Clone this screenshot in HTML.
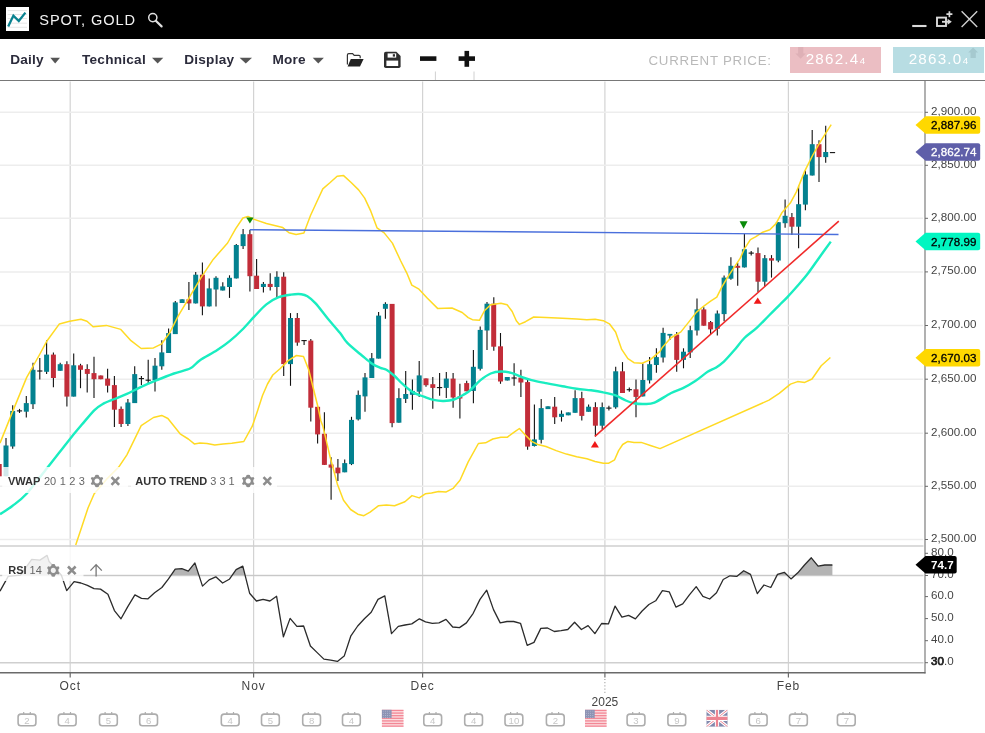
<!DOCTYPE html>
<html><head><meta charset="utf-8"><title>SPOT, GOLD</title>
<style>
html,body{margin:0;padding:0;background:#fff;}
body{width:985px;height:733px;position:relative;overflow:hidden;font-family:"Liberation Sans",sans-serif;}
#hdr{position:absolute;left:0;top:0;width:985px;height:39px;background:#000;}
#logo{position:absolute;left:5.5px;top:7.4px;width:23.7px;height:24px;background:#fff;}
#title{position:absolute;left:39.3px;top:11.4px;font-size:14.6px;line-height:18px;color:#f2f2f2;letter-spacing:.9px;white-space:nowrap;}
#tb{position:absolute;left:0;top:39px;width:985px;height:41px;background:#fff;border-bottom:1.5px solid #787878;}
.mi{position:absolute;top:12.3px;font-size:13.6px;line-height:18px;font-weight:bold;color:#2b2b3b;letter-spacing:.25px;white-space:nowrap;}
.cp{position:absolute;left:648.5px;top:52px;font-size:13.3px;line-height:18px;color:#b9b9b9;letter-spacing:.75px;white-space:nowrap;}
.pb{position:absolute;top:47px;height:25.5px;width:91.2px;color:#fff;font-size:15.2px;line-height:24.6px;letter-spacing:1.2px;white-space:nowrap;}
.pb span{position:absolute;top:0;}
.pb small{font-size:9.8px;letter-spacing:0;margin-left:.3px;}
svg text{font-family:"Liberation Sans",sans-serif;}
.ax{font-size:11.6px;fill:#444;letter-spacing:.05px;}
.tg{font-size:11.6px;letter-spacing:.05px;}
.mo{font-size:12px;fill:#444;letter-spacing:.9px;}
.cn{font-size:9.6px;fill:#c6c6c6;}
.il{font-size:11px;}
#ov{position:absolute;left:0;top:0;}
</style></head><body>
<div id="hdr">
 <div id="logo"></div>
 <div id="title">SPOT, GOLD</div>
</div>
<div id="tb">
 <div class="mi" style="left:10.2px">Daily</div>
 <div class="mi" style="left:82px">Technical</div>
 <div class="mi" style="left:184.2px">Display</div>
 <div class="mi" style="left:272.4px">More</div>
</div>
<div class="cp">CURRENT PRICE:</div>
<div class="pb" style="left:789.8px;background:#ebbec3"><span style="left:15.9px">2862.4<small>4</small></span></div>
<div class="pb" style="left:892.8px;background:#b8dde3"><span style="left:15.9px">2863.0<small>4</small></span></div>
<svg id="ov" width="985" height="733" viewBox="0 0 985 733">
<!-- header icons -->
<g>
 <path d="M7.7,10.6 H27 M7.7,14.5 H27 M7.7,18.5 H27 M7.7,23.2 H27 M7.7,27.3 H27" stroke="#e6e6e6" stroke-width="1"/>
 <path d="M8.2,26.6 L13.4,15.6 L18.8,21 L25.4,12.6" stroke="#0a8290" stroke-width="2.3" fill="none"/>
 <circle cx="152.8" cy="17.6" r="4.1" stroke="#e0e0e0" stroke-width="1.5" fill="none"/>
 <path d="M155.8,20.8 L161.6,26.4" stroke="#e0e0e0" stroke-width="2.2" stroke-linecap="round"/>
 <path d="M912.2,26 H926.5" stroke="#dadada" stroke-width="2.1"/>
 <rect x="937" y="17.6" width="9" height="8.4" stroke="#dadada" stroke-width="1.9" fill="none"/>
 <path d="M942,21.8 H948" stroke="#dadada" stroke-width="1.8"/>
 <path d="M947.6,18.8 L951.8,21.8 L947.6,24.8 Z" fill="#dadada"/>
 <path d="M949.4,11.2 V17.2 M946.4,14.2 H952.4" stroke="#dadada" stroke-width="1.7"/>
 <path d="M961.6,11.2 L977.2,27 M977.2,11.2 L961.6,27" stroke="#cfcfcf" stroke-width="1.4"/>
</g>
<!-- toolbar icons -->
<g fill="#555">
 <path d="M50.3,57.8 H60 L55.15,63.6 Z"/>
 <path d="M152,57.8 H163.3 L157.65,63.6 Z"/>
 <path d="M239.6,57.8 H252 L245.8,63.6 Z"/>
 <path d="M312.7,57.8 H323.9 L318.3,63.6 Z"/>
</g>
<g>
 <path d="M347.4,64.6 V55 Q347.4,53.6 348.8,53.6 H352.6 L354.2,55.4 H359 Q360.2,55.4 360.2,56.6 V58.2" stroke="#333" stroke-width="1.2" fill="none"/>
 <path d="M347.6,66.4 L350.8,59 H363.6 L360,66.4 Z" fill="#222"/>
 <path d="M385.8,51.8 H396.4 L400.6,56 V66.2 Q400.6,68 398.8,68 H385.8 Q384,68 384,66.2 V53.6 Q384,51.8 385.8,51.8 Z" fill="#2e2e2e"/>
 <rect x="387.6" y="53.4" width="8.6" height="4.2" fill="#fff"/>
 <rect x="392.8" y="54.2" width="2.2" height="2.4" fill="#2e2e2e"/>
 <rect x="386.4" y="60.6" width="11.8" height="5.4" fill="#fff"/>
 <rect x="420" y="56.3" width="16.4" height="4.6" fill="#111"/>
 <rect x="458.6" y="56.3" width="16.4" height="4.6" fill="#111"/>
 <rect x="464.5" y="50.9" width="4.6" height="15.9" fill="#111"/>
 <path d="M798.1,47 H803.3 V53.6 H805.7 L800.6,58.7 L795.4,53.6 H798.1 Z" fill="#deb0b6"/>
 <path d="M970.5,58 H975.8 V52.6 H978.1 L973.1,47.5 L968.2,52.6 H970.5 Z" fill="#a5c9cf"/>
</g>
<line x1="70.2" x2="70.2" y1="81.5" y2="672" stroke="#d3d3d3" stroke-width="1.2"/>
<line x1="253.6" x2="253.6" y1="81.5" y2="672" stroke="#d3d3d3" stroke-width="1.2"/>
<line x1="422.6" x2="422.6" y1="81.5" y2="672" stroke="#d3d3d3" stroke-width="1.2"/>
<line x1="604.9" x2="604.9" y1="81.5" y2="672" stroke="#d3d3d3" stroke-width="1.2"/>
<line x1="788.4" x2="788.4" y1="81.5" y2="672" stroke="#d3d3d3" stroke-width="1.2"/>
<line x1="0" x2="923" y1="112.3" y2="112.3" stroke="#ededed" stroke-width="1.5"/>
<line x1="0" x2="923" y1="165.3" y2="165.3" stroke="#ededed" stroke-width="1.5"/>
<line x1="0" x2="923" y1="218.3" y2="218.3" stroke="#ededed" stroke-width="1.5"/>
<line x1="0" x2="923" y1="271.9" y2="271.9" stroke="#ededed" stroke-width="1.5"/>
<line x1="0" x2="923" y1="325.5" y2="325.5" stroke="#ededed" stroke-width="1.5"/>
<line x1="0" x2="923" y1="379.2" y2="379.2" stroke="#ededed" stroke-width="1.5"/>
<line x1="0" x2="923" y1="433.2" y2="433.2" stroke="#ededed" stroke-width="1.5"/>
<line x1="0" x2="923" y1="486.3" y2="486.3" stroke="#ededed" stroke-width="1.5"/>
<line x1="0" x2="923" y1="539.5" y2="539.5" stroke="#ededed" stroke-width="1.5"/>
<line x1="435.4" x2="435.4" y1="71.5" y2="80" stroke="#d0d0d0" stroke-width="1"/>
<line x1="474" x2="474" y1="71.5" y2="80" stroke="#d0d0d0" stroke-width="1"/>
<line x1="0" x2="923.5" y1="546" y2="546" stroke="#cfcfcf" stroke-width="1.6"/>
<line x1="0" x2="923.5" y1="575.5" y2="575.5" stroke="#cfcfcf" stroke-width="1.4"/>
<line x1="0" x2="923.5" y1="662.7" y2="662.7" stroke="#cfcfcf" stroke-width="1.4"/>
<line x1="-0.8" x2="-0.8" y1="464" y2="476.3" stroke="#111" stroke-width="1.1"/>
<rect x="-3.3" y="464" width="5" height="12.3" fill="#c22d39"/>
<line x1="6.0" x2="6.0" y1="437.9" y2="476.2" stroke="#111" stroke-width="1.1"/>
<rect x="3.5" y="445.5" width="5" height="30.7" fill="#03818f"/>
<line x1="12.7" x2="12.7" y1="405.2" y2="448.8" stroke="#111" stroke-width="1.1"/>
<rect x="10.2" y="410.9" width="5" height="35.6" fill="#03818f"/>
<line x1="19.5" x2="19.5" y1="408.9" y2="413.0" stroke="#111" stroke-width="1.1"/>
<line x1="16.9" x2="22.1" y1="410.9" y2="410.9" stroke="#111" stroke-width="1.1"/>
<line x1="26.3" x2="26.3" y1="396.0" y2="417.5" stroke="#111" stroke-width="1.1"/>
<rect x="23.8" y="403.1" width="5" height="8.6" fill="#03818f"/>
<line x1="33.0" x2="33.0" y1="362.8" y2="408.9" stroke="#111" stroke-width="1.1"/>
<rect x="30.5" y="369.8" width="5" height="34.4" fill="#03818f"/>
<line x1="39.8" x2="39.8" y1="358.1" y2="379.6" stroke="#111" stroke-width="1.1"/>
<line x1="37.2" x2="42.4" y1="371.0" y2="371.0" stroke="#111" stroke-width="1.1"/>
<line x1="46.6" x2="46.6" y1="340.3" y2="373.9" stroke="#111" stroke-width="1.1"/>
<rect x="44.1" y="354.6" width="5" height="17.2" fill="#03818f"/>
<line x1="53.4" x2="53.4" y1="352.4" y2="387.2" stroke="#111" stroke-width="1.1"/>
<rect x="50.9" y="354.6" width="5" height="23.4" fill="#c22d39"/>
<line x1="60.2" x2="60.2" y1="362.8" y2="370.8" stroke="#111" stroke-width="1.1"/>
<rect x="57.7" y="364.2" width="5" height="6.6" fill="#03818f"/>
<line x1="66.9" x2="66.9" y1="361.2" y2="406.6" stroke="#111" stroke-width="1.1"/>
<rect x="64.4" y="364.2" width="5" height="32.4" fill="#c22d39"/>
<line x1="73.7" x2="73.7" y1="353.4" y2="396.6" stroke="#111" stroke-width="1.1"/>
<rect x="71.2" y="365.3" width="5" height="31.3" fill="#03818f"/>
<line x1="80.5" x2="80.5" y1="363.8" y2="388.2" stroke="#111" stroke-width="1.1"/>
<rect x="78.0" y="365.3" width="5" height="4.5" fill="#c22d39"/>
<line x1="87.2" x2="87.2" y1="364.2" y2="392.5" stroke="#111" stroke-width="1.1"/>
<rect x="84.8" y="369.0" width="5" height="4.9" fill="#c22d39"/>
<line x1="94.0" x2="94.0" y1="356.7" y2="398.0" stroke="#111" stroke-width="1.1"/>
<rect x="91.5" y="373.1" width="5" height="6.1" fill="#c22d39"/>
<line x1="100.8" x2="100.8" y1="375.5" y2="379.2" stroke="#111" stroke-width="1.1"/>
<rect x="98.3" y="375.5" width="5" height="3.7" fill="#c22d39"/>
<line x1="107.6" x2="107.6" y1="368.8" y2="392.5" stroke="#111" stroke-width="1.1"/>
<rect x="105.1" y="378.6" width="5" height="7.1" fill="#c22d39"/>
<line x1="114.4" x2="114.4" y1="375.9" y2="427.1" stroke="#111" stroke-width="1.1"/>
<rect x="111.9" y="385.1" width="5" height="24.6" fill="#c22d39"/>
<line x1="121.1" x2="121.1" y1="406.6" y2="427.1" stroke="#111" stroke-width="1.1"/>
<rect x="118.6" y="408.9" width="5" height="15.1" fill="#c22d39"/>
<line x1="127.9" x2="127.9" y1="399.0" y2="426.1" stroke="#111" stroke-width="1.1"/>
<rect x="125.4" y="402.5" width="5" height="21.5" fill="#03818f"/>
<line x1="134.7" x2="134.7" y1="366.3" y2="403.1" stroke="#111" stroke-width="1.1"/>
<rect x="132.2" y="374.1" width="5" height="29.0" fill="#03818f"/>
<line x1="141.4" x2="141.4" y1="375.9" y2="385.1" stroke="#111" stroke-width="1.1"/>
<line x1="138.8" x2="144.0" y1="378.6" y2="378.6" stroke="#111" stroke-width="1.1"/>
<line x1="148.2" x2="148.2" y1="359.7" y2="384.1" stroke="#111" stroke-width="1.1"/>
<line x1="145.6" x2="150.8" y1="380.2" y2="380.2" stroke="#111" stroke-width="1.1"/>
<line x1="155.0" x2="155.0" y1="358.1" y2="391.5" stroke="#111" stroke-width="1.1"/>
<rect x="152.5" y="365.7" width="5" height="14.5" fill="#03818f"/>
<line x1="161.8" x2="161.8" y1="340.3" y2="369.8" stroke="#111" stroke-width="1.1"/>
<rect x="159.3" y="352.4" width="5" height="13.9" fill="#03818f"/>
<line x1="168.6" x2="168.6" y1="328.4" y2="353.0" stroke="#111" stroke-width="1.1"/>
<rect x="166.1" y="333.1" width="5" height="19.9" fill="#03818f"/>
<line x1="175.3" x2="175.3" y1="300.9" y2="334.1" stroke="#111" stroke-width="1.1"/>
<rect x="172.8" y="302.4" width="5" height="31.7" fill="#03818f"/>
<line x1="182.1" x2="182.1" y1="299.3" y2="303.0" stroke="#111" stroke-width="1.1"/>
<rect x="179.6" y="299.3" width="5" height="3.7" fill="#03818f"/>
<line x1="188.9" x2="188.9" y1="281.9" y2="309.9" stroke="#111" stroke-width="1.1"/>
<rect x="186.4" y="299.3" width="5" height="4.1" fill="#c22d39"/>
<line x1="195.7" x2="195.7" y1="272.1" y2="303.4" stroke="#111" stroke-width="1.1"/>
<rect x="193.2" y="274.7" width="5" height="28.7" fill="#03818f"/>
<line x1="202.4" x2="202.4" y1="262.4" y2="315.3" stroke="#111" stroke-width="1.1"/>
<rect x="199.9" y="274.7" width="5" height="31.7" fill="#c22d39"/>
<line x1="209.2" x2="209.2" y1="278.4" y2="306.4" stroke="#111" stroke-width="1.1"/>
<rect x="206.7" y="288.4" width="5" height="18.0" fill="#03818f"/>
<line x1="216.0" x2="216.0" y1="276.2" y2="306.4" stroke="#111" stroke-width="1.1"/>
<rect x="213.5" y="277.8" width="5" height="11.7" fill="#03818f"/>
<line x1="222.8" x2="222.8" y1="282.3" y2="290.5" stroke="#111" stroke-width="1.1"/>
<rect x="220.2" y="286.4" width="5" height="4.1" fill="#03818f"/>
<line x1="229.5" x2="229.5" y1="275.3" y2="297.9" stroke="#111" stroke-width="1.1"/>
<rect x="227.0" y="277.8" width="5" height="9.2" fill="#03818f"/>
<line x1="236.3" x2="236.3" y1="244.0" y2="278.4" stroke="#111" stroke-width="1.1"/>
<rect x="233.8" y="245.0" width="5" height="33.4" fill="#03818f"/>
<line x1="243.1" x2="243.1" y1="229.1" y2="249.1" stroke="#111" stroke-width="1.1"/>
<rect x="240.6" y="234.2" width="5" height="11.9" fill="#03818f"/>
<line x1="249.9" x2="249.9" y1="229.7" y2="291.5" stroke="#111" stroke-width="1.1"/>
<rect x="247.4" y="234.2" width="5" height="42.0" fill="#c22d39"/>
<line x1="256.6" x2="256.6" y1="259.0" y2="289.0" stroke="#111" stroke-width="1.1"/>
<rect x="254.1" y="275.7" width="5" height="13.3" fill="#c22d39"/>
<line x1="263.4" x2="263.4" y1="281.9" y2="292.5" stroke="#111" stroke-width="1.1"/>
<rect x="260.9" y="283.9" width="5" height="3.1" fill="#03818f"/>
<line x1="270.2" x2="270.2" y1="273.3" y2="290.5" stroke="#111" stroke-width="1.1"/>
<rect x="267.7" y="283.9" width="5" height="3.1" fill="#c22d39"/>
<line x1="276.9" x2="276.9" y1="271.2" y2="297.9" stroke="#111" stroke-width="1.1"/>
<rect x="274.4" y="276.8" width="5" height="10.2" fill="#03818f"/>
<line x1="283.7" x2="283.7" y1="272.2" y2="376.0" stroke="#111" stroke-width="1.1"/>
<rect x="281.2" y="276.7" width="5" height="87.4" fill="#c22d39"/>
<line x1="290.5" x2="290.5" y1="313.1" y2="385.8" stroke="#111" stroke-width="1.1"/>
<rect x="288.0" y="318.0" width="5" height="46.1" fill="#03818f"/>
<line x1="297.3" x2="297.3" y1="313.1" y2="345.7" stroke="#111" stroke-width="1.1"/>
<rect x="294.8" y="318.0" width="5" height="24.6" fill="#c22d39"/>
<line x1="304.1" x2="304.1" y1="340.6" y2="344.9" stroke="#111" stroke-width="1.1"/>
<line x1="301.4" x2="306.7" y1="340.6" y2="340.6" stroke="#111" stroke-width="1.1"/>
<line x1="310.8" x2="310.8" y1="339.1" y2="421.6" stroke="#111" stroke-width="1.1"/>
<rect x="308.3" y="340.6" width="5" height="67.1" fill="#c22d39"/>
<line x1="317.6" x2="317.6" y1="406.8" y2="443.4" stroke="#111" stroke-width="1.1"/>
<rect x="315.1" y="406.8" width="5" height="27.6" fill="#c22d39"/>
<line x1="324.4" x2="324.4" y1="412.3" y2="464.9" stroke="#111" stroke-width="1.1"/>
<rect x="321.9" y="433.8" width="5" height="31.1" fill="#c22d39"/>
<line x1="331.1" x2="331.1" y1="457.3" y2="499.7" stroke="#111" stroke-width="1.1"/>
<rect x="328.6" y="464.5" width="5" height="3.1" fill="#c22d39"/>
<line x1="337.9" x2="337.9" y1="459.0" y2="480.9" stroke="#111" stroke-width="1.1"/>
<rect x="335.4" y="467.6" width="5" height="5.7" fill="#c22d39"/>
<line x1="344.7" x2="344.7" y1="459.4" y2="472.3" stroke="#111" stroke-width="1.1"/>
<rect x="342.2" y="463.1" width="5" height="9.2" fill="#03818f"/>
<line x1="351.5" x2="351.5" y1="416.8" y2="465.1" stroke="#111" stroke-width="1.1"/>
<rect x="349.0" y="419.9" width="5" height="44.2" fill="#03818f"/>
<line x1="358.2" x2="358.2" y1="390.4" y2="420.5" stroke="#111" stroke-width="1.1"/>
<rect x="355.8" y="394.9" width="5" height="24.5" fill="#03818f"/>
<line x1="365.0" x2="365.0" y1="372.9" y2="411.8" stroke="#111" stroke-width="1.1"/>
<rect x="362.5" y="377.4" width="5" height="19.0" fill="#03818f"/>
<line x1="371.8" x2="371.8" y1="353.1" y2="378.0" stroke="#111" stroke-width="1.1"/>
<rect x="369.3" y="358.2" width="5" height="19.8" fill="#03818f"/>
<line x1="378.6" x2="378.6" y1="312.1" y2="358.6" stroke="#111" stroke-width="1.1"/>
<rect x="376.1" y="315.6" width="5" height="43.0" fill="#03818f"/>
<line x1="385.4" x2="385.4" y1="302.3" y2="318.7" stroke="#111" stroke-width="1.1"/>
<rect x="382.9" y="303.9" width="5" height="4.9" fill="#03818f"/>
<line x1="392.1" x2="392.1" y1="303.9" y2="427.2" stroke="#111" stroke-width="1.1"/>
<rect x="389.6" y="303.9" width="5" height="119.2" fill="#c22d39"/>
<line x1="398.9" x2="398.9" y1="388.3" y2="422.7" stroke="#111" stroke-width="1.1"/>
<rect x="396.4" y="398.1" width="5" height="24.6" fill="#03818f"/>
<line x1="405.7" x2="405.7" y1="370.9" y2="403.0" stroke="#111" stroke-width="1.1"/>
<rect x="403.2" y="394.0" width="5" height="4.9" fill="#03818f"/>
<line x1="412.4" x2="412.4" y1="379.5" y2="409.8" stroke="#111" stroke-width="1.1"/>
<rect x="409.9" y="390.9" width="5" height="3.9" fill="#03818f"/>
<line x1="419.2" x2="419.2" y1="361.0" y2="396.9" stroke="#111" stroke-width="1.1"/>
<rect x="416.7" y="375.4" width="5" height="16.3" fill="#03818f"/>
<line x1="426.0" x2="426.0" y1="378.4" y2="386.8" stroke="#111" stroke-width="1.1"/>
<rect x="423.5" y="378.4" width="5" height="6.8" fill="#c22d39"/>
<line x1="432.8" x2="432.8" y1="377.0" y2="408.7" stroke="#111" stroke-width="1.1"/>
<rect x="430.3" y="384.2" width="5" height="3.7" fill="#c22d39"/>
<line x1="439.6" x2="439.6" y1="372.9" y2="395.8" stroke="#111" stroke-width="1.1"/>
<line x1="436.9" x2="442.2" y1="387.6" y2="387.6" stroke="#111" stroke-width="1.1"/>
<line x1="446.3" x2="446.3" y1="371.9" y2="397.9" stroke="#111" stroke-width="1.1"/>
<rect x="443.8" y="378.6" width="5" height="9.3" fill="#03818f"/>
<line x1="453.1" x2="453.1" y1="372.9" y2="407.7" stroke="#111" stroke-width="1.1"/>
<rect x="450.6" y="378.6" width="5" height="18.9" fill="#c22d39"/>
<line x1="459.9" x2="459.9" y1="383.8" y2="418.6" stroke="#111" stroke-width="1.1"/>
<rect x="457.4" y="396.4" width="5" height="2.1" fill="#c22d39"/>
<line x1="466.7" x2="466.7" y1="380.7" y2="391.3" stroke="#111" stroke-width="1.1"/>
<rect x="464.2" y="383.1" width="5" height="8.2" fill="#c22d39"/>
<line x1="473.4" x2="473.4" y1="350.0" y2="403.2" stroke="#111" stroke-width="1.1"/>
<rect x="470.9" y="366.8" width="5" height="24.1" fill="#03818f"/>
<line x1="480.2" x2="480.2" y1="326.4" y2="370.5" stroke="#111" stroke-width="1.1"/>
<rect x="477.7" y="329.9" width="5" height="38.9" fill="#03818f"/>
<line x1="487.0" x2="487.0" y1="301.9" y2="350.0" stroke="#111" stroke-width="1.1"/>
<rect x="484.5" y="303.7" width="5" height="26.8" fill="#03818f"/>
<line x1="493.8" x2="493.8" y1="297.2" y2="350.8" stroke="#111" stroke-width="1.1"/>
<rect x="491.2" y="303.7" width="5" height="43.0" fill="#c22d39"/>
<line x1="500.5" x2="500.5" y1="333.0" y2="383.8" stroke="#111" stroke-width="1.1"/>
<rect x="498.0" y="346.3" width="5" height="35.2" fill="#c22d39"/>
<line x1="507.3" x2="507.3" y1="377.0" y2="380.5" stroke="#111" stroke-width="1.1"/>
<rect x="504.8" y="377.0" width="5" height="3.5" fill="#03818f"/>
<line x1="514.1" x2="514.1" y1="363.3" y2="385.8" stroke="#111" stroke-width="1.1"/>
<line x1="511.5" x2="516.7" y1="378.0" y2="378.0" stroke="#111" stroke-width="1.1"/>
<line x1="520.9" x2="520.9" y1="369.8" y2="396.9" stroke="#111" stroke-width="1.1"/>
<rect x="518.4" y="377.6" width="5" height="4.9" fill="#c22d39"/>
<line x1="527.6" x2="527.6" y1="378.0" y2="449.7" stroke="#111" stroke-width="1.1"/>
<rect x="525.1" y="382.1" width="5" height="64.5" fill="#c22d39"/>
<line x1="534.4" x2="534.4" y1="404.6" y2="446.6" stroke="#111" stroke-width="1.1"/>
<rect x="531.9" y="439.4" width="5" height="6.6" fill="#03818f"/>
<line x1="541.2" x2="541.2" y1="399.1" y2="443.5" stroke="#111" stroke-width="1.1"/>
<rect x="538.7" y="408.1" width="5" height="31.7" fill="#03818f"/>
<line x1="548.0" x2="548.0" y1="406.3" y2="409.1" stroke="#111" stroke-width="1.1"/>
<rect x="545.5" y="406.3" width="5" height="2.8" fill="#03818f"/>
<line x1="554.7" x2="554.7" y1="396.9" y2="424.1" stroke="#111" stroke-width="1.1"/>
<rect x="552.2" y="406.7" width="5" height="10.6" fill="#c22d39"/>
<line x1="561.5" x2="561.5" y1="410.4" y2="421.6" stroke="#111" stroke-width="1.1"/>
<rect x="559.0" y="413.8" width="5" height="3.1" fill="#03818f"/>
<line x1="568.3" x2="568.3" y1="412.4" y2="415.3" stroke="#111" stroke-width="1.1"/>
<rect x="565.8" y="412.4" width="5" height="2.9" fill="#03818f"/>
<line x1="575.1" x2="575.1" y1="390.3" y2="412.8" stroke="#111" stroke-width="1.1"/>
<rect x="572.6" y="398.1" width="5" height="14.7" fill="#03818f"/>
<line x1="581.8" x2="581.8" y1="391.7" y2="420.6" stroke="#111" stroke-width="1.1"/>
<rect x="579.3" y="398.1" width="5" height="17.8" fill="#c22d39"/>
<line x1="588.6" x2="588.6" y1="404.6" y2="411.8" stroke="#111" stroke-width="1.1"/>
<rect x="586.1" y="406.7" width="5" height="5.1" fill="#03818f"/>
<line x1="595.4" x2="595.4" y1="402.2" y2="436.4" stroke="#111" stroke-width="1.1"/>
<rect x="592.9" y="407.1" width="5" height="18.6" fill="#c22d39"/>
<line x1="602.2" x2="602.2" y1="402.6" y2="429.2" stroke="#111" stroke-width="1.1"/>
<rect x="599.7" y="407.1" width="5" height="18.6" fill="#03818f"/>
<line x1="608.9" x2="608.9" y1="405.7" y2="410.4" stroke="#111" stroke-width="1.1"/>
<line x1="606.3" x2="611.5" y1="408.1" y2="408.1" stroke="#111" stroke-width="1.1"/>
<line x1="615.7" x2="615.7" y1="366.8" y2="408.7" stroke="#111" stroke-width="1.1"/>
<rect x="613.2" y="371.3" width="5" height="36.0" fill="#03818f"/>
<line x1="622.5" x2="622.5" y1="362.1" y2="393.0" stroke="#111" stroke-width="1.1"/>
<rect x="620.0" y="371.3" width="5" height="21.7" fill="#c22d39"/>
<line x1="629.3" x2="629.3" y1="387.6" y2="391.7" stroke="#111" stroke-width="1.1"/>
<line x1="626.7" x2="631.9" y1="389.7" y2="389.7" stroke="#111" stroke-width="1.1"/>
<line x1="636.0" x2="636.0" y1="379.5" y2="417.3" stroke="#111" stroke-width="1.1"/>
<rect x="633.5" y="389.3" width="5" height="7.6" fill="#c22d39"/>
<line x1="642.8" x2="642.8" y1="363.6" y2="396.4" stroke="#111" stroke-width="1.1"/>
<rect x="640.3" y="380.0" width="5" height="16.4" fill="#03818f"/>
<line x1="649.6" x2="649.6" y1="356.9" y2="383.5" stroke="#111" stroke-width="1.1"/>
<rect x="647.1" y="364.2" width="5" height="16.2" fill="#03818f"/>
<line x1="656.4" x2="656.4" y1="348.3" y2="372.8" stroke="#111" stroke-width="1.1"/>
<rect x="653.9" y="357.1" width="5" height="7.9" fill="#03818f"/>
<line x1="663.1" x2="663.1" y1="327.8" y2="362.6" stroke="#111" stroke-width="1.1"/>
<rect x="660.6" y="332.9" width="5" height="24.6" fill="#03818f"/>
<line x1="669.9" x2="669.9" y1="333.9" y2="340.1" stroke="#111" stroke-width="1.1"/>
<rect x="667.4" y="333.9" width="5" height="1.7" fill="#03818f"/>
<line x1="676.7" x2="676.7" y1="331.9" y2="371.8" stroke="#111" stroke-width="1.1"/>
<rect x="674.2" y="334.5" width="5" height="25.4" fill="#c22d39"/>
<line x1="683.5" x2="683.5" y1="348.3" y2="368.3" stroke="#111" stroke-width="1.1"/>
<rect x="681.0" y="351.7" width="5" height="8.2" fill="#03818f"/>
<line x1="690.2" x2="690.2" y1="325.7" y2="357.9" stroke="#111" stroke-width="1.1"/>
<rect x="687.7" y="330.2" width="5" height="22.2" fill="#03818f"/>
<line x1="697.0" x2="697.0" y1="298.5" y2="335.6" stroke="#111" stroke-width="1.1"/>
<rect x="694.5" y="309.4" width="5" height="21.1" fill="#03818f"/>
<line x1="703.8" x2="703.8" y1="307.3" y2="325.7" stroke="#111" stroke-width="1.1"/>
<rect x="701.3" y="309.4" width="5" height="16.3" fill="#c22d39"/>
<line x1="710.6" x2="710.6" y1="321.0" y2="333.9" stroke="#111" stroke-width="1.1"/>
<rect x="708.1" y="322.1" width="5" height="7.3" fill="#c22d39"/>
<line x1="717.3" x2="717.3" y1="310.4" y2="335.6" stroke="#111" stroke-width="1.1"/>
<rect x="714.8" y="313.5" width="5" height="15.3" fill="#03818f"/>
<line x1="724.1" x2="724.1" y1="275.6" y2="321.2" stroke="#111" stroke-width="1.1"/>
<rect x="721.6" y="277.6" width="5" height="36.5" fill="#03818f"/>
<line x1="730.9" x2="730.9" y1="257.2" y2="279.7" stroke="#111" stroke-width="1.1"/>
<rect x="728.4" y="265.8" width="5" height="12.9" fill="#03818f"/>
<line x1="737.7" x2="737.7" y1="262.7" y2="285.8" stroke="#111" stroke-width="1.1"/>
<rect x="735.2" y="265.8" width="5" height="2.0" fill="#c22d39"/>
<line x1="744.4" x2="744.4" y1="233.8" y2="267.4" stroke="#111" stroke-width="1.1"/>
<rect x="741.9" y="249.2" width="5" height="18.2" fill="#03818f"/>
<line x1="751.2" x2="751.2" y1="251.0" y2="255.5" stroke="#111" stroke-width="1.1"/>
<line x1="748.6" x2="753.8" y1="253.1" y2="253.1" stroke="#111" stroke-width="1.1"/>
<line x1="758.0" x2="758.0" y1="247.5" y2="292.0" stroke="#111" stroke-width="1.1"/>
<rect x="755.5" y="253.1" width="5" height="28.6" fill="#c22d39"/>
<line x1="764.8" x2="764.8" y1="255.1" y2="286.4" stroke="#111" stroke-width="1.1"/>
<rect x="762.3" y="258.2" width="5" height="23.5" fill="#03818f"/>
<line x1="771.5" x2="771.5" y1="255.1" y2="277.6" stroke="#111" stroke-width="1.1"/>
<rect x="769.0" y="258.2" width="5" height="2.4" fill="#c22d39"/>
<line x1="778.3" x2="778.3" y1="222.2" y2="262.3" stroke="#111" stroke-width="1.1"/>
<rect x="775.8" y="222.2" width="5" height="38.4" fill="#03818f"/>
<line x1="785.1" x2="785.1" y1="199.5" y2="227.7" stroke="#111" stroke-width="1.1"/>
<rect x="782.6" y="215.8" width="5" height="7.4" fill="#03818f"/>
<line x1="791.9" x2="791.9" y1="213.0" y2="234.9" stroke="#111" stroke-width="1.1"/>
<rect x="789.4" y="217.1" width="5" height="9.6" fill="#c22d39"/>
<line x1="798.6" x2="798.6" y1="185.7" y2="248.2" stroke="#111" stroke-width="1.1"/>
<rect x="796.1" y="204.2" width="5" height="22.5" fill="#03818f"/>
<line x1="805.4" x2="805.4" y1="170.4" y2="210.3" stroke="#111" stroke-width="1.1"/>
<rect x="802.9" y="174.5" width="5" height="30.1" fill="#03818f"/>
<line x1="812.2" x2="812.2" y1="130.1" y2="175.5" stroke="#111" stroke-width="1.1"/>
<rect x="809.7" y="144.2" width="5" height="31.3" fill="#03818f"/>
<line x1="819.0" x2="819.0" y1="140.3" y2="182.1" stroke="#111" stroke-width="1.1"/>
<rect x="816.5" y="144.2" width="5" height="12.9" fill="#c22d39"/>
<line x1="825.7" x2="825.7" y1="125.8" y2="162.8" stroke="#111" stroke-width="1.1"/>
<rect x="823.2" y="152.0" width="5" height="5.1" fill="#03818f"/>
<line x1="829.9" x2="835.1" y1="152.6" y2="152.6" stroke="#111" stroke-width="1.1"/>
<path d="M0.0,443.1 L12.3,412.4 L26.6,377.6 L39.9,354.0 L47.1,340.7 L59.4,323.9 L69.6,321.3 L80.9,319.2 L87.0,321.3 L93.1,326.8 L106.4,325.4 L120.8,329.4 L131.0,340.7 L141.2,348.5 L153.5,347.9 L161.7,343.8 L169.9,332.5 L178.1,316.1 L188.7,298.3 L200.9,277.8 L213.2,259.4 L227.6,243.0 L235.7,228.7 L242.9,218.0 L248.0,216.4 L254.2,219.4 L266.4,223.5 L274.6,225.6 L282.8,227.6 L289.0,232.8 L296.1,234.4 L303.9,232.9 L310.5,215.5 L316.6,202.2 L322.8,188.9 L329.9,182.8 L337.1,176.2 L343.6,175.6 L351.4,182.8 L358.6,189.9 L364.7,198.1 L370.9,211.4 L377.0,227.8 L384.2,232.9 L392.4,243.1 L400.5,260.5 L406.7,272.8 L411.8,285.1 L419.0,289.2 L427.4,298.2 L437.6,308.4 L452.0,308.0 L462.2,312.5 L468.2,317.6 L472.4,319.7 L479.4,320.3 L484.6,310.5 L490.7,304.7 L500.9,303.3 L507.1,304.7 L512.2,311.5 L516.3,320.7 L519.4,324.4 L525.5,321.7 L533.7,317.0 L546.0,317.6 L562.4,318.2 L576.7,319.1 L586.9,319.7 L595.1,319.3 L603.3,320.7 L609.4,323.8 L615.6,332.0 L621.7,349.4 L627.9,358.6 L634.0,362.7 L642.2,363.3 L650.4,359.6 L660.0,351.4 L662.5,347.2 L670.7,338.0 L680.9,331.9 L689.1,321.6 L696.3,312.4 L703.5,306.3 L710.6,301.2 L716.8,297.1 L721.9,286.8 L728.0,276.6 L734.2,267.4 L740.3,258.2 L744.2,249.2 L750.4,239.6 L755.5,236.9 L762.7,232.2 L769.8,229.8 L776.0,223.6 L782.1,212.4 L790.3,203.1 L796.4,191.9 L804.6,171.4 L812.8,155.0 L821.0,140.7 L831.2,124.7" fill="none" stroke="#ffda24" stroke-width="1.5" stroke-linejoin="round"/>
<path d="M75.7,544.9 L81.9,526.4 L88.0,508.0 L94.2,493.7 L106.4,479.4 L118.7,467.1 L126.9,454.8 L141.2,425.7 L153.5,417.5 L161.7,415.4 L167.9,418.5 L180.1,433.8 L188.3,439.0 L194.3,443.9 L200.0,443.1 L207.0,443.5 L214.8,444.9 L223.0,444.0 L231.8,443.2 L243.8,441.5 L252.3,426.2 L257.5,411.0 L262.5,395.5 L267.5,384.0 L272.8,375.0 L280.0,368.8 L288.2,360.6 L296.4,355.5 L303.5,356.5 L308.7,369.8 L313.8,390.3 L317.9,406.7 L320.9,421.0 L323.0,426.6 L330.2,457.3 L337.3,483.9 L343.5,500.3 L350.6,509.5 L357.8,514.2 L363.9,515.7 L370.1,512.2 L378.3,505.8 L386.4,505.0 L394.6,505.8 L404.9,501.7 L412.0,495.6 L419.2,497.9 L425.3,493.8 L431.5,493.1 L438.6,491.5 L445.8,492.1 L453.0,488.4 L460.0,480.3 L468.2,461.9 L478.4,443.5 L485.6,442.8 L492.8,439.0 L500.9,437.3 L507.1,437.3 L514.2,432.2 L519.4,428.5 L525.5,435.3 L531.6,441.4 L537.8,444.5 L546.0,446.5 L556.2,450.6 L566.4,454.1 L576.7,456.8 L586.9,458.8 L595.1,461.5 L603.3,463.3 L608.4,463.3 L614.6,459.8 L618.6,450.6 L622.7,444.5 L627.9,441.4 L634.0,442.4 L641.2,442.4 L650.4,445.5 L660.0,448.6 L769.0,400.1 L779.2,393.3 L790.5,384.1 L797.6,381.6 L804.8,382.4 L812.0,379.0 L821.2,365.7 L830.4,357.5" fill="none" stroke="#ffda24" stroke-width="1.5" stroke-linejoin="round"/>
<path d="M0.0,514.2 C2.1,512.8 7.9,509.4 12.3,506.0 C16.7,502.6 20.8,500.0 26.6,493.7 C32.4,487.4 39.9,477.2 47.1,468.1 C54.3,459.1 63.8,446.6 69.6,439.4 C75.4,432.1 77.8,429.5 81.9,424.6 C86.0,419.8 90.8,413.7 94.2,410.3 C97.6,406.9 99.0,406.1 102.4,404.2 C105.8,402.3 110.5,400.7 114.6,399.0 C118.7,397.3 122.5,395.9 126.9,393.9 C131.3,391.9 136.4,389.0 141.2,386.8 C146.0,384.6 150.1,382.8 155.6,380.6 C161.1,378.4 168.2,375.6 174.0,373.5 C179.8,371.4 186.1,370.5 190.4,368.3 C194.7,366.1 195.5,363.2 200.0,360.2 C204.5,357.2 212.4,353.3 217.3,350.1 C222.2,346.9 225.5,344.6 229.6,341.2 C233.7,337.8 237.8,334.1 241.9,330.0 C246.0,325.9 250.1,321.0 254.2,316.7 C258.3,312.4 262.3,307.6 266.4,304.4 C270.5,301.1 274.6,298.8 278.7,297.2 C282.8,295.6 287.2,295.1 291.0,294.6 C294.8,294.1 298.5,293.9 301.2,294.2 C303.9,294.5 305.0,294.7 307.4,296.2 C309.8,297.7 312.2,299.6 315.6,303.4 C319.0,307.1 323.8,313.8 327.9,318.7 C332.0,323.6 336.8,329.0 340.1,333.1 C343.4,337.2 344.0,339.5 347.6,343.2 C351.2,346.9 357.8,352.1 361.9,355.5 C366.0,358.9 369.0,361.6 372.1,363.7 C375.2,365.8 377.9,366.8 380.3,367.8 C382.7,368.8 384.0,368.4 386.4,369.8 C388.8,371.2 391.9,373.6 394.6,376.0 C397.3,378.4 399.7,381.5 402.8,384.2 C405.9,386.9 409.7,390.4 413.1,392.4 C416.5,394.4 419.9,395.1 423.3,396.4 C426.7,397.6 430.1,399.1 433.5,399.9 C436.9,400.7 440.4,401.1 443.8,401.0 C447.2,400.9 450.6,400.6 454.0,399.5 C457.4,398.4 461.5,395.9 464.2,394.4 C466.9,392.9 467.5,392.7 470.2,390.3 C472.9,387.9 477.1,382.9 480.5,380.1 C483.9,377.3 487.3,374.9 490.7,373.5 C494.1,372.1 497.5,371.6 500.9,371.5 C504.3,371.4 507.8,372.0 511.2,372.9 C514.6,373.8 518.0,375.8 521.4,377.0 C524.8,378.2 527.5,379.1 531.6,380.1 C535.7,381.1 540.9,382.1 546.0,383.1 C551.1,384.1 557.3,385.3 562.4,386.2 C567.5,387.1 571.9,388.0 576.7,388.7 C581.5,389.4 586.6,389.7 591.0,390.3 C595.4,390.9 599.2,391.5 603.3,392.4 C607.4,393.2 611.9,394.0 615.6,395.4 C619.4,396.8 622.7,399.2 625.8,400.5 C628.9,401.8 630.9,402.6 634.0,403.2 C637.1,403.8 640.8,404.1 644.2,404.0 C647.6,403.9 650.1,404.4 654.5,402.6 C658.9,400.8 666.0,395.7 670.7,393.3 C675.5,390.9 678.9,390.2 683.0,388.2 C687.1,386.1 691.2,383.7 695.3,381.0 C699.4,378.3 704.2,374.0 707.6,371.8 C711.0,369.6 713.0,369.4 715.7,367.7 C718.4,366.0 720.8,364.5 723.9,361.6 C727.0,358.7 730.8,354.2 734.2,350.3 C737.6,346.4 740.6,341.8 744.4,338.0 C748.1,334.2 752.6,331.6 756.7,327.8 C760.8,324.1 765.2,319.2 769.0,315.5 C772.8,311.8 776.1,308.4 779.2,305.3 C782.3,302.2 784.3,300.4 787.4,297.1 C790.5,293.9 794.2,289.7 797.6,285.8 C801.0,281.9 804.5,277.9 807.9,273.5 C811.3,269.1 814.3,264.5 818.1,259.2 C821.9,253.9 828.7,244.5 830.8,241.6" fill="none" stroke="#19edc0" stroke-width="2.4" stroke-linejoin="round"/>
<line x1="250" y1="229.7" x2="838.5" y2="234.5" stroke="#4a6fdc" stroke-width="1.4"/>
<line x1="594.9" y1="436.4" x2="838.8" y2="221.2" stroke="#f02a2a" stroke-width="1.6"/>
<polygon points="246.2,217.4 253.6,217.4 249.9,223.6" fill="#0a8a0a"/>
<polygon points="739.6,221.2 747.6,221.2 743.6,228.7" fill="#0a8a0a"/>
<polygon points="590.9,447.6 598.9,447.6 594.9,441" fill="#f01818"/>
<polygon points="753.7,303.7 761.7,303.7 757.7,297.5" fill="#f01818"/>
<clipPath id="c70"><rect x="0" y="540" width="925" height="35.5"/></clipPath>
<polygon clip-path="url(#c70)" points="0.0,575.5 0.0,591.2 8.2,576.4 20.5,575.2 31.7,559.4 39.9,560.1 47.1,555.4 49.1,561.5 61.4,575.2 66.7,590.6 74.1,581.6 80.9,583.0 87.4,585.4 94.0,588.7 100.5,589.1 107.9,594.2 114.4,610.6 121.0,618.8 127.5,607.1 134.9,594.9 141.5,598.3 148.0,598.8 154.6,592.8 161.9,587.5 168.5,578.9 175.2,569.1 181.8,568.7 188.3,571.1 194.9,562.9 202.5,586.1 209.1,579.9 215.8,576.8 222.6,583.0 229.3,579.3 236.1,569.7 242.8,566.2 249.6,593.2 256.4,601.0 263.1,599.4 269.9,601.0 276.6,596.3 283.4,636.8 290.1,618.4 296.9,626.4 303.6,626.0 310.4,646.0 317.2,652.6 323.9,659.1 330.7,660.2 337.4,661.4 344.2,656.1 350.9,635.8 357.7,626.0 364.4,618.8 371.2,612.3 378.0,599.4 384.8,595.9 391.5,633.6 398.3,626.4 405.0,625.0 411.8,623.9 419.4,618.8 425.5,621.9 432.3,623.3 439.0,622.9 446.0,619.4 452.7,627.0 459.5,627.6 466.4,622.9 473.2,613.3 480.0,599.4 486.7,590.2 493.5,609.6 500.2,622.9 507.0,621.5 513.7,621.5 520.5,623.3 527.2,645.4 534.0,642.4 540.8,628.4 547.5,628.0 554.3,631.5 561.1,630.7 567.8,629.5 574.6,622.3 581.4,629.5 588.1,625.6 594.9,633.6 601.6,623.5 608.4,623.9 615.1,606.1 621.9,617.2 628.6,615.3 635.4,618.8 642.1,611.0 648.9,604.5 655.7,600.8 662.4,590.6 669.2,591.8 675.9,607.1 682.7,603.9 689.4,594.9 696.2,586.7 702.9,596.3 709.7,599.0 716.5,592.8 723.2,579.5 730.0,575.8 736.7,576.4 743.7,570.7 750.5,574.4 757.3,593.6 764.0,585.0 770.8,587.5 777.5,574.4 784.3,572.3 791.0,578.9 797.8,572.8 804.5,565.0 811.3,557.8 818.1,566.2 824.8,565.0 832.4,565.0 832.4,575.5" fill="#b4b4b4"/>
<path d="M0.0,591.2 L8.2,576.4 L20.5,575.2 L31.7,559.4 L39.9,560.1 L47.1,555.4 L49.1,561.5 L61.4,575.2 L66.7,590.6 L74.1,581.6 L80.9,583.0 L87.4,585.4 L94.0,588.7 L100.5,589.1 L107.9,594.2 L114.4,610.6 L121.0,618.8 L127.5,607.1 L134.9,594.9 L141.5,598.3 L148.0,598.8 L154.6,592.8 L161.9,587.5 L168.5,578.9 L175.2,569.1 L181.8,568.7 L188.3,571.1 L194.9,562.9 L202.5,586.1 L209.1,579.9 L215.8,576.8 L222.6,583.0 L229.3,579.3 L236.1,569.7 L242.8,566.2 L249.6,593.2 L256.4,601.0 L263.1,599.4 L269.9,601.0 L276.6,596.3 L283.4,636.8 L290.1,618.4 L296.9,626.4 L303.6,626.0 L310.4,646.0 L317.2,652.6 L323.9,659.1 L330.7,660.2 L337.4,661.4 L344.2,656.1 L350.9,635.8 L357.7,626.0 L364.4,618.8 L371.2,612.3 L378.0,599.4 L384.8,595.9 L391.5,633.6 L398.3,626.4 L405.0,625.0 L411.8,623.9 L419.4,618.8 L425.5,621.9 L432.3,623.3 L439.0,622.9 L446.0,619.4 L452.7,627.0 L459.5,627.6 L466.4,622.9 L473.2,613.3 L480.0,599.4 L486.7,590.2 L493.5,609.6 L500.2,622.9 L507.0,621.5 L513.7,621.5 L520.5,623.3 L527.2,645.4 L534.0,642.4 L540.8,628.4 L547.5,628.0 L554.3,631.5 L561.1,630.7 L567.8,629.5 L574.6,622.3 L581.4,629.5 L588.1,625.6 L594.9,633.6 L601.6,623.5 L608.4,623.9 L615.1,606.1 L621.9,617.2 L628.6,615.3 L635.4,618.8 L642.1,611.0 L648.9,604.5 L655.7,600.8 L662.4,590.6 L669.2,591.8 L675.9,607.1 L682.7,603.9 L689.4,594.9 L696.2,586.7 L702.9,596.3 L709.7,599.0 L716.5,592.8 L723.2,579.5 L730.0,575.8 L736.7,576.4 L743.7,570.7 L750.5,574.4 L757.3,593.6 L764.0,585.0 L770.8,587.5 L777.5,574.4 L784.3,572.3 L791.0,578.9 L797.8,572.8 L804.5,565.0 L811.3,557.8 L818.1,566.2 L824.8,565.0 L832.4,565.0" fill="none" stroke="#2b2b2b" stroke-width="1.3" stroke-linejoin="round"/>
<rect x="2.2" y="467" width="125.8" height="26" fill="#fff" fill-opacity="0.82"/>
<rect x="131" y="467" width="146" height="26" fill="#fff" fill-opacity="0.82"/>
<rect x="2.2" y="547" width="81.3" height="34" fill="#fff" fill-opacity="0.82"/>
<line x1="925" x2="925" y1="81" y2="673.4" stroke="#6a6a6a" stroke-width="1.05"/>
<line x1="0" x2="925.5" y1="672.7" y2="672.7" stroke="#6a6a6a" stroke-width="1.5"/>
<line x1="925" x2="928" y1="112.3" y2="112.3" stroke="#6a6a6a" stroke-width="1"/>
<text x="931" y="114.8" class="ax">2,900.00</text>
<line x1="925" x2="928" y1="165.3" y2="165.3" stroke="#6a6a6a" stroke-width="1"/>
<text x="931" y="167.9" class="ax">2,850.00</text>
<line x1="925" x2="928" y1="218.3" y2="218.3" stroke="#6a6a6a" stroke-width="1"/>
<text x="931" y="220.9" class="ax">2,800.00</text>
<line x1="925" x2="928" y1="271.9" y2="271.9" stroke="#6a6a6a" stroke-width="1"/>
<text x="931" y="274.4" class="ax">2,750.00</text>
<line x1="925" x2="928" y1="325.5" y2="325.5" stroke="#6a6a6a" stroke-width="1"/>
<text x="931" y="328.1" class="ax">2,700.00</text>
<line x1="925" x2="928" y1="379.2" y2="379.2" stroke="#6a6a6a" stroke-width="1"/>
<text x="931" y="381.8" class="ax">2,650.00</text>
<line x1="925" x2="928" y1="433.2" y2="433.2" stroke="#6a6a6a" stroke-width="1"/>
<text x="931" y="435.8" class="ax">2,600.00</text>
<line x1="925" x2="928" y1="486.3" y2="486.3" stroke="#6a6a6a" stroke-width="1"/>
<text x="931" y="488.9" class="ax">2,550.00</text>
<line x1="925" x2="928" y1="539.5" y2="539.5" stroke="#6a6a6a" stroke-width="1"/>
<text x="931" y="542.0" class="ax">2,500.00</text>
<line x1="925" x2="928" y1="553.3" y2="553.3" stroke="#6a6a6a" stroke-width="1"/>
<text x="931" y="556.0" class="ax">80.0</text>
<line x1="925" x2="928" y1="575.5" y2="575.5" stroke="#6a6a6a" stroke-width="1"/>
<text x="931" y="578.2" class="ax">70.0</text>
<line x1="925" x2="928" y1="596.6" y2="596.6" stroke="#6a6a6a" stroke-width="1"/>
<text x="931" y="599.3" class="ax">60.0</text>
<line x1="925" x2="928" y1="618.6" y2="618.6" stroke="#6a6a6a" stroke-width="1"/>
<text x="931" y="621.3" class="ax">50.0</text>
<line x1="925" x2="928" y1="640.7" y2="640.7" stroke="#6a6a6a" stroke-width="1"/>
<text x="931" y="643.4" class="ax">40.0</text>
<line x1="925" x2="928" y1="662.7" y2="662.7" stroke="#6a6a6a" stroke-width="1"/>
<text x="931" y="665.4" class="ax">30.0</text>
<text x="931" y="665.4" class="ax" stroke="#222" stroke-width="0.7">30</text>
<path d="M915.5,125.0 L925.5,116.2 H978.2 Q980.2,116.2 980.2,118.2 V131.8 Q980.2,133.8 978.2,133.8 H925.5 Z" fill="#ffd800"/>
<text x="931" y="129.0" class="tg" fill="#000" stroke="#000" stroke-width="0.3">2,887.96</text>
<path d="M915.5,152.0 L925.5,143.2 H978.2 Q980.2,143.2 980.2,145.2 V158.8 Q980.2,160.8 978.2,160.8 H925.5 Z" fill="#5f5fa9"/>
<text x="931" y="156.0" class="tg" fill="#fff" stroke="#fff" stroke-width="0.3">2,862.74</text>
<path d="M915.5,241.5 L925.5,232.7 H978.2 Q980.2,232.7 980.2,234.7 V248.3 Q980.2,250.3 978.2,250.3 H925.5 Z" fill="#00f6c1"/>
<text x="931" y="245.5" class="tg" fill="#000" stroke="#000" stroke-width="0.3">2,778.99</text>
<path d="M915.5,357.7 L925.5,348.9 H978.2 Q980.2,348.9 980.2,350.9 V364.5 Q980.2,366.5 978.2,366.5 H925.5 Z" fill="#ffd800"/>
<text x="931" y="361.7" class="tg" fill="#000" stroke="#000" stroke-width="0.3">2,670.03</text>
<path d="M915.5,564.8 L925.5,556.0 H954.7 Q956.7,556.0 956.7,558.0 V571.6 Q956.7,573.6 954.7,573.6 H925.5 Z" fill="#000"/>
<text x="931" y="568.8" class="tg" fill="#fff" stroke="#fff" stroke-width="0" font-weight="bold">74.7</text>
<line x1="70.2" x2="70.2" y1="672.7" y2="677.6" stroke="#6a6a6a" stroke-width="1.2"/>
<text x="70.2" y="690.3" class="mo" text-anchor="middle">Oct</text>
<line x1="253.6" x2="253.6" y1="672.7" y2="677.6" stroke="#6a6a6a" stroke-width="1.2"/>
<text x="253.6" y="690.3" class="mo" text-anchor="middle">Nov</text>
<line x1="422.6" x2="422.6" y1="672.7" y2="677.6" stroke="#6a6a6a" stroke-width="1.2"/>
<text x="422.6" y="690.3" class="mo" text-anchor="middle">Dec</text>
<line x1="788.4" x2="788.4" y1="672.7" y2="677.6" stroke="#6a6a6a" stroke-width="1.2"/>
<text x="788.4" y="690.3" class="mo" text-anchor="middle">Feb</text>
<line x1="604.9" x2="604.9" y1="672.7" y2="677.6" stroke="#6a6a6a" stroke-width="1.2"/>
<line x1="604.9" x2="604.9" y1="679" y2="693" stroke="#888" stroke-width="1" stroke-dasharray="1,2.2"/>
<text x="604.9" y="706" class="mo" style="letter-spacing:0" text-anchor="middle">2025</text>
<g stroke="#adadad" fill="none" stroke-width="1.6"><rect x="18.1" y="714.1" width="17.8" height="11.6" rx="2.8"/><line x1="23.7" x2="23.7" y1="712" y2="714.6" stroke-width="1.2"/><line x1="30.3" x2="30.3" y1="712" y2="714.6" stroke-width="1.2"/></g><text x="27.0" y="723.6" class="cn" text-anchor="middle">2</text>
<g stroke="#adadad" fill="none" stroke-width="1.6"><rect x="58.3" y="714.1" width="17.8" height="11.6" rx="2.8"/><line x1="63.9" x2="63.9" y1="712" y2="714.6" stroke-width="1.2"/><line x1="70.5" x2="70.5" y1="712" y2="714.6" stroke-width="1.2"/></g><text x="67.2" y="723.6" class="cn" text-anchor="middle">4</text>
<g stroke="#adadad" fill="none" stroke-width="1.6"><rect x="99.5" y="714.1" width="17.8" height="11.6" rx="2.8"/><line x1="105.1" x2="105.1" y1="712" y2="714.6" stroke-width="1.2"/><line x1="111.7" x2="111.7" y1="712" y2="714.6" stroke-width="1.2"/></g><text x="108.4" y="723.6" class="cn" text-anchor="middle">5</text>
<g stroke="#adadad" fill="none" stroke-width="1.6"><rect x="139.7" y="714.1" width="17.8" height="11.6" rx="2.8"/><line x1="145.3" x2="145.3" y1="712" y2="714.6" stroke-width="1.2"/><line x1="151.9" x2="151.9" y1="712" y2="714.6" stroke-width="1.2"/></g><text x="148.6" y="723.6" class="cn" text-anchor="middle">6</text>
<g stroke="#adadad" fill="none" stroke-width="1.6"><rect x="221.3" y="714.1" width="17.8" height="11.6" rx="2.8"/><line x1="226.9" x2="226.9" y1="712" y2="714.6" stroke-width="1.2"/><line x1="233.5" x2="233.5" y1="712" y2="714.6" stroke-width="1.2"/></g><text x="230.2" y="723.6" class="cn" text-anchor="middle">4</text>
<g stroke="#adadad" fill="none" stroke-width="1.6"><rect x="261.5" y="714.1" width="17.8" height="11.6" rx="2.8"/><line x1="267.1" x2="267.1" y1="712" y2="714.6" stroke-width="1.2"/><line x1="273.7" x2="273.7" y1="712" y2="714.6" stroke-width="1.2"/></g><text x="270.4" y="723.6" class="cn" text-anchor="middle">5</text>
<g stroke="#adadad" fill="none" stroke-width="1.6"><rect x="302.7" y="714.1" width="17.8" height="11.6" rx="2.8"/><line x1="308.3" x2="308.3" y1="712" y2="714.6" stroke-width="1.2"/><line x1="314.9" x2="314.9" y1="712" y2="714.6" stroke-width="1.2"/></g><text x="311.6" y="723.6" class="cn" text-anchor="middle">8</text>
<g stroke="#adadad" fill="none" stroke-width="1.6"><rect x="342.5" y="714.1" width="17.8" height="11.6" rx="2.8"/><line x1="348.1" x2="348.1" y1="712" y2="714.6" stroke-width="1.2"/><line x1="354.7" x2="354.7" y1="712" y2="714.6" stroke-width="1.2"/></g><text x="351.4" y="723.6" class="cn" text-anchor="middle">4</text>
<g stroke="#adadad" fill="none" stroke-width="1.6"><rect x="423.8" y="714.1" width="17.8" height="11.6" rx="2.8"/><line x1="429.4" x2="429.4" y1="712" y2="714.6" stroke-width="1.2"/><line x1="436.0" x2="436.0" y1="712" y2="714.6" stroke-width="1.2"/></g><text x="432.7" y="723.6" class="cn" text-anchor="middle">4</text>
<g stroke="#adadad" fill="none" stroke-width="1.6"><rect x="464.7" y="714.1" width="17.8" height="11.6" rx="2.8"/><line x1="470.3" x2="470.3" y1="712" y2="714.6" stroke-width="1.2"/><line x1="476.9" x2="476.9" y1="712" y2="714.6" stroke-width="1.2"/></g><text x="473.6" y="723.6" class="cn" text-anchor="middle">4</text>
<g stroke="#adadad" fill="none" stroke-width="1.6"><rect x="505.0" y="714.1" width="17.8" height="11.6" rx="2.8"/><line x1="510.6" x2="510.6" y1="712" y2="714.6" stroke-width="1.2"/><line x1="517.2" x2="517.2" y1="712" y2="714.6" stroke-width="1.2"/></g><text x="513.9" y="723.6" class="cn" text-anchor="middle">10</text>
<g stroke="#adadad" fill="none" stroke-width="1.6"><rect x="546.4" y="714.1" width="17.8" height="11.6" rx="2.8"/><line x1="552.0" x2="552.0" y1="712" y2="714.6" stroke-width="1.2"/><line x1="558.6" x2="558.6" y1="712" y2="714.6" stroke-width="1.2"/></g><text x="555.3" y="723.6" class="cn" text-anchor="middle">2</text>
<g stroke="#adadad" fill="none" stroke-width="1.6"><rect x="627.1" y="714.1" width="17.8" height="11.6" rx="2.8"/><line x1="632.7" x2="632.7" y1="712" y2="714.6" stroke-width="1.2"/><line x1="639.3" x2="639.3" y1="712" y2="714.6" stroke-width="1.2"/></g><text x="636.0" y="723.6" class="cn" text-anchor="middle">3</text>
<g stroke="#adadad" fill="none" stroke-width="1.6"><rect x="667.9" y="714.1" width="17.8" height="11.6" rx="2.8"/><line x1="673.5" x2="673.5" y1="712" y2="714.6" stroke-width="1.2"/><line x1="680.1" x2="680.1" y1="712" y2="714.6" stroke-width="1.2"/></g><text x="676.8" y="723.6" class="cn" text-anchor="middle">9</text>
<g stroke="#adadad" fill="none" stroke-width="1.6"><rect x="749.3" y="714.1" width="17.8" height="11.6" rx="2.8"/><line x1="754.9" x2="754.9" y1="712" y2="714.6" stroke-width="1.2"/><line x1="761.5" x2="761.5" y1="712" y2="714.6" stroke-width="1.2"/></g><text x="758.2" y="723.6" class="cn" text-anchor="middle">6</text>
<g stroke="#adadad" fill="none" stroke-width="1.6"><rect x="789.5" y="714.1" width="17.8" height="11.6" rx="2.8"/><line x1="795.1" x2="795.1" y1="712" y2="714.6" stroke-width="1.2"/><line x1="801.7" x2="801.7" y1="712" y2="714.6" stroke-width="1.2"/></g><text x="798.4" y="723.6" class="cn" text-anchor="middle">7</text>
<g stroke="#adadad" fill="none" stroke-width="1.6"><rect x="837.4" y="714.1" width="17.8" height="11.6" rx="2.8"/><line x1="843.0" x2="843.0" y1="712" y2="714.6" stroke-width="1.2"/><line x1="849.6" x2="849.6" y1="712" y2="714.6" stroke-width="1.2"/></g><text x="846.3" y="723.6" class="cn" text-anchor="middle">7</text>
<g opacity="0.5"><rect x="381.9" y="709.8" width="21.6" height="17.0" fill="#f9bcc3"/><rect x="381.9" y="709.80" width="21.6" height="1.31" fill="#e8112d"/><rect x="381.9" y="712.42" width="21.6" height="1.31" fill="#e8112d"/><rect x="381.9" y="715.03" width="21.6" height="1.31" fill="#e8112d"/><rect x="381.9" y="717.65" width="21.6" height="1.31" fill="#e8112d"/><rect x="381.9" y="720.26" width="21.6" height="1.31" fill="#e8112d"/><rect x="381.9" y="722.88" width="21.6" height="1.31" fill="#e8112d"/><rect x="381.9" y="725.49" width="21.6" height="1.31" fill="#e8112d"/><rect x="381.9" y="709.8" width="9.7" height="8.24" fill="#1d2a6b"/><circle cx="383.2" cy="711.1" r="0.45" fill="#aab0d0"/><circle cx="385.4" cy="711.1" r="0.45" fill="#aab0d0"/><circle cx="387.6" cy="711.1" r="0.45" fill="#aab0d0"/><circle cx="389.8" cy="711.1" r="0.45" fill="#aab0d0"/><circle cx="383.2" cy="713.3" r="0.45" fill="#aab0d0"/><circle cx="385.4" cy="713.3" r="0.45" fill="#aab0d0"/><circle cx="387.6" cy="713.3" r="0.45" fill="#aab0d0"/><circle cx="389.8" cy="713.3" r="0.45" fill="#aab0d0"/><circle cx="383.2" cy="715.5" r="0.45" fill="#aab0d0"/><circle cx="385.4" cy="715.5" r="0.45" fill="#aab0d0"/><circle cx="387.6" cy="715.5" r="0.45" fill="#aab0d0"/><circle cx="389.8" cy="715.5" r="0.45" fill="#aab0d0"/><circle cx="383.2" cy="717.7" r="0.45" fill="#aab0d0"/><circle cx="385.4" cy="717.7" r="0.45" fill="#aab0d0"/><circle cx="387.6" cy="717.7" r="0.45" fill="#aab0d0"/><circle cx="389.8" cy="717.7" r="0.45" fill="#aab0d0"/></g>
<g opacity="0.5"><rect x="585" y="709.8" width="21.6" height="17.0" fill="#f9bcc3"/><rect x="585" y="709.80" width="21.6" height="1.31" fill="#e8112d"/><rect x="585" y="712.42" width="21.6" height="1.31" fill="#e8112d"/><rect x="585" y="715.03" width="21.6" height="1.31" fill="#e8112d"/><rect x="585" y="717.65" width="21.6" height="1.31" fill="#e8112d"/><rect x="585" y="720.26" width="21.6" height="1.31" fill="#e8112d"/><rect x="585" y="722.88" width="21.6" height="1.31" fill="#e8112d"/><rect x="585" y="725.49" width="21.6" height="1.31" fill="#e8112d"/><rect x="585" y="709.8" width="9.7" height="8.24" fill="#1d2a6b"/><circle cx="586.3" cy="711.1" r="0.45" fill="#aab0d0"/><circle cx="588.5" cy="711.1" r="0.45" fill="#aab0d0"/><circle cx="590.7" cy="711.1" r="0.45" fill="#aab0d0"/><circle cx="592.9" cy="711.1" r="0.45" fill="#aab0d0"/><circle cx="586.3" cy="713.3" r="0.45" fill="#aab0d0"/><circle cx="588.5" cy="713.3" r="0.45" fill="#aab0d0"/><circle cx="590.7" cy="713.3" r="0.45" fill="#aab0d0"/><circle cx="592.9" cy="713.3" r="0.45" fill="#aab0d0"/><circle cx="586.3" cy="715.5" r="0.45" fill="#aab0d0"/><circle cx="588.5" cy="715.5" r="0.45" fill="#aab0d0"/><circle cx="590.7" cy="715.5" r="0.45" fill="#aab0d0"/><circle cx="592.9" cy="715.5" r="0.45" fill="#aab0d0"/><circle cx="586.3" cy="717.7" r="0.45" fill="#aab0d0"/><circle cx="588.5" cy="717.7" r="0.45" fill="#aab0d0"/><circle cx="590.7" cy="717.7" r="0.45" fill="#aab0d0"/><circle cx="592.9" cy="717.7" r="0.45" fill="#aab0d0"/></g>
<g opacity="0.55"><clipPath id="uk"><rect x="706.3" y="709.8" width="21.4" height="17.0"/></clipPath><g clip-path="url(#uk)"><rect x="706.3" y="709.8" width="21.4" height="17.0" fill="#1d2a6b"/><path d="M706.3,709.8 L727.6999999999999,726.8 M727.6999999999999,709.8 L706.3,726.8" stroke="#fff" stroke-width="3"/><path d="M706.3,709.8 L727.6999999999999,726.8 M727.6999999999999,709.8 L706.3,726.8" stroke="#e0213a" stroke-width="1"/><path d="M717.0,709.8 V726.8" stroke="#fff" stroke-width="4.2"/><path d="M706.3,718.3 H727.6999999999999" stroke="#fff" stroke-width="5.2"/><path d="M717.0,709.8 V726.8" stroke="#e0213a" stroke-width="2.2"/><path d="M706.3,718.3 H727.6999999999999" stroke="#e0213a" stroke-width="3.2"/></g></g>
<text x="8" y="484.8" class="il"><tspan font-weight="bold" fill="#333">VWAP</tspan><tspan fill="#666" dx="3.6" style="word-spacing:.4px">20 1 2 3</tspan></text>
<path transform="translate(97,481) scale(1.13)" d="M0,-5.6 L1.4,-5.4 L1.9,-3.9 L3,-3.2 L4.6,-3.6 L5.5,-2.2 L4.5,-0.9 L4.5,0.9 L5.5,2.2 L4.6,3.6 L3,3.2 L1.9,3.9 L1.4,5.4 L0,5.6 L-1.4,5.4 L-1.9,3.9 L-3,3.2 L-4.6,3.6 L-5.5,2.2 L-4.5,0.9 L-4.5,-0.9 L-5.5,-2.2 L-4.6,-3.6 L-3,-3.2 L-1.9,-3.9 L-1.4,-5.4 Z M0,-2.3 A2.3,2.3 0 1 0 0.01,-2.3 Z" fill="#8d8d8d" fill-rule="evenodd"/>
<path d="M111.5,477.2 L119.1,484.8 M119.1,477.2 L111.5,484.8" stroke="#8d8d8d" stroke-width="2.6"/>
<text x="135.3" y="484.8" class="il"><tspan font-weight="bold" fill="#333">AUTO TREND</tspan><tspan fill="#666" dx="3">3 3 1</tspan></text>
<path transform="translate(248.2,481) scale(1.13)" d="M0,-5.6 L1.4,-5.4 L1.9,-3.9 L3,-3.2 L4.6,-3.6 L5.5,-2.2 L4.5,-0.9 L4.5,0.9 L5.5,2.2 L4.6,3.6 L3,3.2 L1.9,3.9 L1.4,5.4 L0,5.6 L-1.4,5.4 L-1.9,3.9 L-3,3.2 L-4.6,3.6 L-5.5,2.2 L-4.5,0.9 L-4.5,-0.9 L-5.5,-2.2 L-4.6,-3.6 L-3,-3.2 L-1.9,-3.9 L-1.4,-5.4 Z M0,-2.3 A2.3,2.3 0 1 0 0.01,-2.3 Z" fill="#8d8d8d" fill-rule="evenodd"/>
<path d="M263.5,477.2 L271.1,484.8 M271.1,477.2 L263.5,484.8" stroke="#8d8d8d" stroke-width="2.6"/>
<text x="8.2" y="573.6" class="il"><tspan font-weight="bold" fill="#333">RSI</tspan><tspan fill="#666" dx="3">14</tspan></text>
<path transform="translate(53.3,570.4) scale(1.13)" d="M0,-5.6 L1.4,-5.4 L1.9,-3.9 L3,-3.2 L4.6,-3.6 L5.5,-2.2 L4.5,-0.9 L4.5,0.9 L5.5,2.2 L4.6,3.6 L3,3.2 L1.9,3.9 L1.4,5.4 L0,5.6 L-1.4,5.4 L-1.9,3.9 L-3,3.2 L-4.6,3.6 L-5.5,2.2 L-4.5,0.9 L-4.5,-0.9 L-5.5,-2.2 L-4.6,-3.6 L-3,-3.2 L-1.9,-3.9 L-1.4,-5.4 Z M0,-2.3 A2.3,2.3 0 1 0 0.01,-2.3 Z" fill="#8d8d8d" fill-rule="evenodd"/>
<path d="M68.0,566.5 L75.6,574.0999999999999 M75.6,566.5 L68.0,574.0999999999999" stroke="#8d8d8d" stroke-width="2.6"/>
<path d="M96.1,576.4 V565 M90.4,570.6 L96.1,564.6 L101.8,570.6" stroke="#777" stroke-width="1.3" fill="none"/></svg></body></html>
